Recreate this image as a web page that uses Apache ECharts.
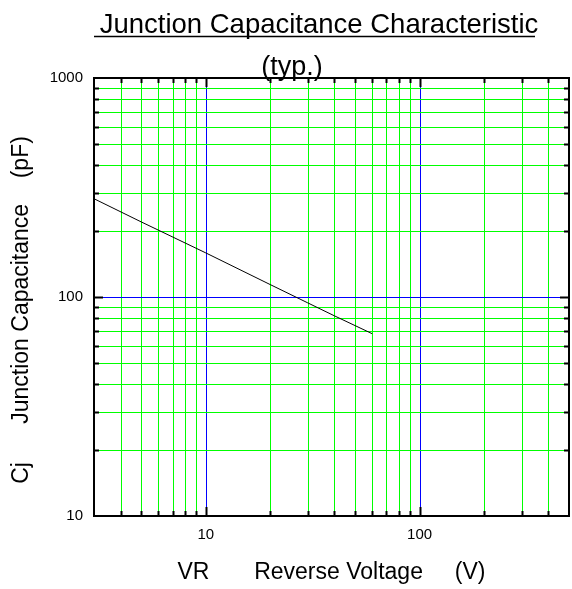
<!DOCTYPE html>
<html><head><meta charset="utf-8">
<script src="https://cdn.jsdelivr.net/npm/echarts@6/dist/echarts.min.js"></script>
<style>html,body{margin:0;padding:0;background:#fff}#c{width:572px;height:589px}</style>
</head><body><div id="c"></div>
<script>
var voltage = [3, 5, 10, 20, 30, 40, 60];
var capacitance = [281, 220, 159, 114, 94, 82, 68];
var xGridMinor = [4,5,6,7,8,9,20,30,40,50,60,70,80,90,200,300,400];
var xGridMajor = [10, 100];
var yGridMinor = [20,30,40,50,60,70,80,90,200,300,400,500,600,700,800,900];
var yGridMajor = [100];
var xTickLabels = [10, 100];
var yTickLabels = [10, 100, 1000];
var X_MIN = 3, X_MAX = 500, Y_MIN = 10, Y_MAX = 1000;

var gridData = [];
xGridMinor.forEach(function(v){ gridData.push([v, 0, 0]); });
xGridMajor.forEach(function(v){ gridData.push([v, 0, 1]); });
yGridMinor.forEach(function(v){ gridData.push([v, 1, 0]); });
yGridMajor.forEach(function(v){ gridData.push([v, 1, 1]); });

function crisp(p){ return Math.round(p) + 0.5; }

function renderGrid(params, api){
  var v = api.value(0), dir = api.value(1), major = api.value(2);
  var col = major ? '#0000ff' : '#00ff00';
  var tl = major ? 9 : 5;
  var ch = [];
  if (dir === 0) {
    var a = api.coord([v, Y_MIN]), b = api.coord([v, Y_MAX]);
    var x = crisp(a[0]);
    ch.push({type:'line', shape:{x1:x,y1:a[1],x2:x,y2:b[1]}, style:{stroke:col, lineWidth:1}});
    ch.push({type:'line', shape:{x1:x,y1:a[1],x2:x,y2:a[1]-tl}, style:{stroke:'#000', lineWidth:2}});
    ch.push({type:'line', shape:{x1:x,y1:b[1],x2:x,y2:b[1]+tl}, style:{stroke:'#000', lineWidth:2}});
  } else {
    var a2 = api.coord([X_MIN, v]), b2 = api.coord([X_MAX, v]);
    var y = crisp(a2[1]);
    ch.push({type:'line', shape:{x1:a2[0],y1:y,x2:b2[0],y2:y}, style:{stroke:col, lineWidth:1}});
    ch.push({type:'line', shape:{x1:a2[0],y1:y,x2:a2[0]+tl,y2:y}, style:{stroke:'#000', lineWidth:2}});
    ch.push({type:'line', shape:{x1:b2[0],y1:y,x2:b2[0]-tl,y2:y}, style:{stroke:'#000', lineWidth:2}});
  }
  return {type:'group', children: ch};
}

var chart = echarts.init(document.getElementById('c'), null, {renderer:'canvas'});
chart.setOption({
  animation: false,
  textStyle: {fontFamily: 'Liberation Sans, Arial, sans-serif'},
  title: [
    {text: 'Junction Capacitance Characteristic', left: 314, top: 6, textAlign: 'center',
     textStyle: {fontSize: 27.5, fontWeight: 'normal', color: '#000', fontFamily: 'Liberation Sans'}},
    {text: '(typ.)', left: 287, top: 49, textAlign: 'center',
     textStyle: {fontSize: 27, fontWeight: 'normal', color: '#000', fontFamily: 'Liberation Sans'}}
  ],
  graphic: [
    {type: 'line', shape: {x1: 94, y1: 36.5, x2: 535, y2: 36.5}, style: {stroke: '#000', lineWidth: 1.5}}
  ],
  grid: {left: 94, right: 3, top: 78, bottom: 68, show: true, borderColor: '#000', borderWidth: 2, backgroundColor: '#fff', z: 0},
  xAxis: {
    type: 'log', logBase: 10, min: X_MIN, max: X_MAX,
    name: 'VR       Reverse Voltage     (V)', nameLocation: 'middle', nameGap: 45,
    nameTextStyle: {fontSize: 23, color: '#000', fontFamily: 'Liberation Sans'},
    axisLine: {show: false}, axisTick: {show: false}, splitLine: {show: false},
    axisLabel: {fontSize: 15, color: '#000', margin: 11, fontFamily: 'Liberation Sans',
      formatter: function(v){ return xTickLabels.indexOf(Math.round(v)) >= 0 && Math.abs(v - Math.round(v)) < 1e-6 ? String(Math.round(v)) : ''; }}
  },
  yAxis: {
    type: 'log', logBase: 10, min: Y_MIN, max: Y_MAX,
    name: 'Cj      Junction Capacitance    (pF)', nameLocation: 'middle', nameGap: 61,
    nameTextStyle: {fontSize: 23, color: '#000', fontFamily: 'Liberation Sans', padding: [0, 26, 0, 0]},
    axisLine: {show: false}, axisTick: {show: false}, splitLine: {show: false},
    axisLabel: {fontSize: 15, color: '#000', margin: 11, fontFamily: 'Liberation Sans',
      formatter: function(v){ var r = Math.round(v); return yTickLabels.indexOf(r) >= 0 ? String(r) : ''; }}
  },
  series: [
    {type: 'custom', data: gridData, renderItem: renderGrid, z: 1, silent: true, clip: false,
     encode: {x: 0}},
    {type: 'line', data: voltage.map(function(v, i){ return [v, capacitance[i]]; }),
     symbol: 'none', lineStyle: {color: '#000', width: 1}, z: 3}
  ]
});
</script></body></html>
